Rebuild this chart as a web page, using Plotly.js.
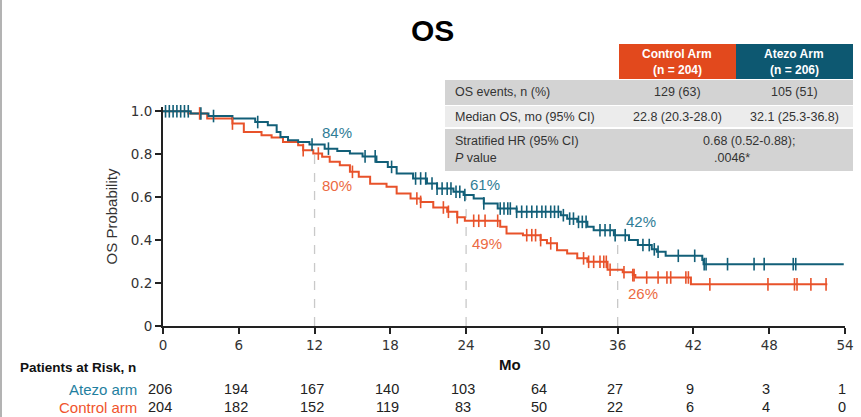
<!DOCTYPE html>
<html>
<head>
<meta charset="utf-8">
<script src="https://cdn.plot.ly/plotly-3.0.1.min.js"></script>
<style>
  html, body { margin: 0; padding: 0; background: #ffffff; }
  #chart { width: 861px; height: 417px; }
</style>
</head>
<body>
<div id="chart"></div>
<script>
// ---- Kaplan-Meier data (months, survival probability) ----
const monthTicks = [0, 6, 12, 18, 24, 30, 36, 42, 48, 54];

const atezoStepTimes = [0, 2.2, 3.6, 5.5, 7.3, 8.3, 9.0, 9.3, 9.9, 10.7, 11.6, 12.8, 13.8, 14.8, 15.8, 16.9, 17.8, 18.5, 19.8, 20.9, 21.7, 23.0, 23.8, 24.6, 25.4, 26.5, 28.0, 31.5, 32.0, 32.8, 33.6, 34.1, 35.7, 36.9, 37.6, 38.7, 39.1, 39.8, 42.7, 42.8];
const atezoStepSurv  = [1.0, 0.99, 0.978, 0.966, 0.95, 0.935, 0.904, 0.88, 0.865, 0.857, 0.845, 0.826, 0.815, 0.803, 0.79, 0.764, 0.741, 0.71, 0.687, 0.664, 0.64, 0.625, 0.61, 0.594, 0.571, 0.547, 0.532, 0.516, 0.5, 0.485, 0.462, 0.446, 0.423, 0.40, 0.377, 0.357, 0.346, 0.327, 0.307, 0.288];
const atezoLastFollowUp = 53.9;
const atezoCensorTimes = [0.2, 0.5, 0.8, 1.1, 1.4, 1.7, 2.0, 3.0, 4.0, 7.5, 11.8, 13.1, 16.0, 16.8, 18.1, 20.0, 20.4, 20.8, 21.3, 21.7, 22.1, 22.5, 22.8, 23.2, 23.5, 23.9, 25.4, 26.7, 27.0, 27.3, 27.5, 28.0, 28.4, 28.8, 29.2, 29.6, 30.0, 30.3, 30.7, 31.0, 31.3, 31.7, 32.2, 32.5, 32.9, 33.2, 33.5, 34.6, 35.0, 35.4, 35.8, 36.6, 38.0, 38.5, 38.9, 39.2, 40.8, 42.1, 42.85, 43.0, 44.7, 46.8, 47.6, 49.9, 50.1];

const controlStepTimes = [0, 2.0, 3.5, 5.5, 6.4, 7.8, 8.6, 9.5, 10.7, 11.1, 11.9, 12.6, 13.2, 14.0, 14.8, 15.5, 16.4, 17.7, 18.5, 19.6, 20.4, 21.4, 22.5, 23.3, 23.9, 26.7, 27.2, 28.5, 29.9, 30.4, 31.2, 32.0, 32.8, 33.6, 35.2, 36.4, 37.2, 37.4, 41.8];
const controlStepSurv  = [1.0, 0.99, 0.966, 0.943, 0.904, 0.888, 0.878, 0.857, 0.842, 0.819, 0.803, 0.788, 0.765, 0.749, 0.718, 0.695, 0.663, 0.648, 0.617, 0.594, 0.578, 0.552, 0.532, 0.506, 0.49, 0.462, 0.431, 0.423, 0.40, 0.385, 0.353, 0.338, 0.315, 0.299, 0.262, 0.25, 0.237, 0.226, 0.194];
const controlLastFollowUp = 52.6;
const controlCensorTimes = [2.9, 5.5, 11.1, 12.3, 15.0, 20.1, 20.4, 22.2, 22.6, 23.3, 24.6, 25.0, 25.5, 26.5, 28.8, 29.2, 29.5, 29.9, 30.7, 33.3, 33.7, 34.1, 34.6, 34.9, 35.1, 35.4, 36.5, 37.2, 37.3, 38.3, 39.2, 39.9, 40.2, 41.4, 41.6, 43.3, 47.9, 50.0, 50.2, 51.3, 52.5];

// ---- landmark rates ----
const landmarkMonths = [12, 24, 36];
const atezoLandmark = [0.84, 0.61, 0.42];
const controlLandmark = [0.80, 0.49, 0.26];

// ---- patients at risk ----
const atezoAtRisk = [206, 194, 167, 140, 103, 64, 27, 9, 3, 1];
const controlAtRisk = [204, 182, 152, 119, 83, 50, 22, 6, 4, 0];

// ---- summary table ----
const armHeaders = ['Control Arm', 'Atezo Arm'];
const armSizes = ['(n = 204)', '(n = 206)'];
const rowLabels = ['OS events, n (%)', 'Median OS, mo (95% CI)', 'Stratified HR (95% CI)', '<i>P</i> value'];
const controlValues = ['129 (63)', '22.8 (20.3-28.0)'];
const atezoValues = ['105 (51)', '32.1 (25.3-36.8)'];
const hazardRatio = '0.68 (0.52-0.88);';
const pValue = '.0046*';

// ---- styling ----
const ATEZO = '#125f78';
const CONTROL = '#e8522a';
const ATEZO_TXT = '#2f7d96';
const CONTROL_TXT = '#ec6a43';
const FONT = 'Liberation Sans, Arial, sans-serif';
const TICK_FONT = 'DejaVu Sans, Liberation Sans, sans-serif';

// page-pixel helpers for the plot frame
const W = 861, H = 417, ML = 163, MR = 16, MT = 107, MB = 91;
const PW = W - ML - MR, PH = H - MT - MB;
const px = x => (x - ML) / PW;
const py = y => (H - MB - y) / PH;

function survivalAt(times, surv, t) {
  let s = surv[0];
  for (let i = 0; i < times.length; i++) if (times[i] <= t) s = surv[i];
  return s;
}

function stepTrace(times, surv, last, color) {
  return {
    x: times.concat([last]),
    y: surv.concat([surv[surv.length - 1]]),
    mode: 'lines', line: { shape: 'hv', color: color, width: 2 },
    hoverinfo: 'skip', showlegend: false
  };
}
function censorTrace(times, stepT, stepS, color) {
  return {
    x: times, y: times.map(t => survivalAt(stepT, stepS, t)),
    mode: 'markers',
    marker: { symbol: 'line-ns-open', size: 9, color: color, line: { color: color, width: 1.6 } },
    cliponaxis: false, hoverinfo: 'skip', showlegend: false
  };
}

// dashed landmark guides
const guideX = [], guideY = [];
landmarkMonths.forEach((m, i) => { guideX.push(m, m, null); guideY.push(0, atezoLandmark[i], null); });

const traces = [
  { x: guideX, y: guideY, mode: 'lines', line: { color: '#c9c9c9', width: 1.3, dash: 'dash' }, hoverinfo: 'skip', showlegend: false },
  stepTrace(controlStepTimes, controlStepSurv, controlLastFollowUp, CONTROL),
  stepTrace(atezoStepTimes, atezoStepSurv, atezoLastFollowUp, ATEZO),
  censorTrace(controlCensorTimes, controlStepTimes, controlStepSurv, CONTROL),
  censorTrace(atezoCensorTimes, atezoStepTimes, atezoStepSurv, ATEZO)
];

const annotations = [];
const shapes = [];

function note(x, y, text, size, color, opts) {
  annotations.push(Object.assign({
    x: x, y: y, xref: 'paper', yref: 'paper', text: text, showarrow: false,
    xanchor: 'center', yanchor: 'middle', font: { family: FONT, size: size, color: color }
  }, opts || {}));
}

// landmark labels
const atezoShift = [[22, 13], [19, 11], [23, 14]];
const controlShift = [[22, -31], [21, -23], [25, -23]];
landmarkMonths.forEach((m, i) => {
  note(m, atezoLandmark[i], Math.round(atezoLandmark[i] * 100) + '%', 15, ATEZO_TXT,
    { xref: 'x', yref: 'y', xshift: atezoShift[i][0], yshift: atezoShift[i][1] });
  note(m, controlLandmark[i], Math.round(controlLandmark[i] * 100) + '%', 15, CONTROL_TXT,
    { xref: 'x', yref: 'y', xshift: controlShift[i][0], yshift: controlShift[i][1] });
});

// title
note(px(432), py(30), '<b>OS</b>', 30, '#000');

// x-axis title
note(px(510), py(364), '<b>Mo</b>', 15, '#111');

// patients at risk
note(px(18), py(367), '<b>Patients at Risk, n</b>', 13.5, '#111', { xanchor: 'left' });
note(px(139), py(389), 'Atezo arm', 15, '#1f7fa0', { xanchor: 'right' });
note(px(139), py(407), 'Control arm', 15, '#f0542c', { xanchor: 'right' });
monthTicks.forEach((m, i) => {
  note(m, py(389), String(atezoAtRisk[i]), 14.5, '#222', { xref: 'x', xshift: -3 });
  note(m, py(407), String(controlAtRisk[i]), 14.5, '#222', { xref: 'x', xshift: -3 });
});

// summary table
function rect(x0, y0, x1, y1, fill) {
  shapes.push({ type: 'rect', xref: 'paper', yref: 'paper', x0: px(x0), x1: px(x1), y0: py(y1), y1: py(y0),
    fillcolor: fill, line: { width: 0 }, layer: 'above' });
}
rect(619, 44, 736, 79, '#e2491d');
rect(736, 44, 853, 79, '#0d5871');
rect(445, 80, 853, 105, '#d3d3d3');
rect(445, 106, 853, 127, '#ececec');
rect(445, 129, 853, 171, '#d3d3d3');

const colCenters = [677, 794];
armHeaders.forEach((h, i) => {
  note(px(colCenters[i]), py(54), '<b>' + h + '</b>', 12, '#fff');
  note(px(colCenters[i]), py(70), '<b>' + armSizes[i] + '</b>', 12, '#fff');
});
const rowY = [92, 117, 141, 158];
rowLabels.forEach((lbl, i) => {
  note(px(453), py(rowY[i]), lbl, 12.5, '#333', { xanchor: 'left' });
});
controlValues.forEach((v, i) => {
  note(px(colCenters[0]), py(rowY[i]), v, 12.5, '#333');
  note(px(colCenters[1]), py(rowY[i]), atezoValues[i], 12.5, '#333');
});
note(px(749), py(rowY[2]), hazardRatio, 12.5, '#333');
note(px(732), py(rowY[3]), pValue, 12.5, '#333');

// thin frame line along the left edge
shapes.push({ type: 'line', xref: 'paper', yref: 'paper', x0: px(1), x1: px(1), y0: py(0), y1: py(417),
  line: { color: '#9a9a9a', width: 1.5 } });

const layout = {
  width: W, height: H,
  margin: { l: ML, r: MR, t: MT, b: MB, pad: 0 },
  paper_bgcolor: '#ffffff', plot_bgcolor: '#ffffff',
  showlegend: false,
  font: { family: FONT, color: '#333' },
  xaxis: {
    range: [0, 54], tickvals: monthTicks, ticktext: monthTicks.map(String),
    showline: true, linecolor: '#222', linewidth: 2, ticks: 'outside', ticklen: 6, tickwidth: 2, tickcolor: '#222',
    showgrid: false, zeroline: false, tickfont: { family: TICK_FONT, size: 13.5, color: '#333' }
  },
  yaxis: {
    range: [0, 1.02], tickvals: [0, 0.2, 0.4, 0.6, 0.8, 1.0], ticktext: ['0', '0.2', '0.4', '0.6', '0.8', '1.0'],
    showline: true, linecolor: '#222', linewidth: 2, ticks: 'outside', ticklen: 6, tickwidth: 2, tickcolor: '#222',
    showgrid: false, zeroline: false, tickfont: { family: TICK_FONT, size: 13.5, color: '#333' },
    title: { text: 'OS Probability', font: { family: FONT, size: 15, color: '#333' }, standoff: 10 }
  },
  shapes: shapes,
  annotations: annotations
};

Plotly.newPlot('chart', traces, layout, { displayModeBar: false, staticPlot: true });
</script>
</body>
</html>
